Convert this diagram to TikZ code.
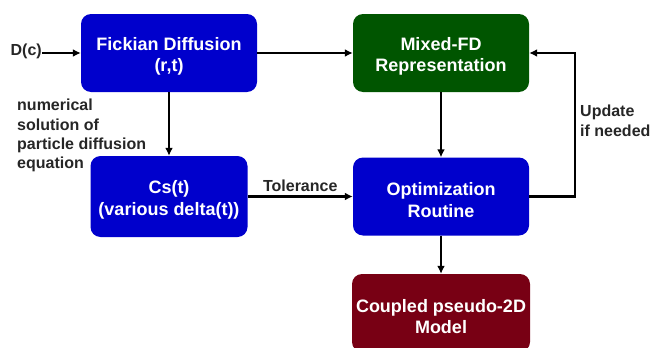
\documentclass[tikz,border=0pt]{standalone}
\usepackage{fontspec}
\usetikzlibrary{arrows.meta}
\setmainfont{Liberation Sans}
\definecolor{boxblue}{RGB}{0,0,204}
\definecolor{boxgreen}{RGB}{0,85,0}
\definecolor{boxred}{RGB}{120,0,20}
\definecolor{notegray}{RGB}{38,38,38}
\newcommand{\topstrut}{\rule{0pt}{20pt}}
\begin{document}
\begin{tikzpicture}[x = 1pt, y = -1pt, >= {Latex[length = 8pt, width = 8pt]},
        block/.style = {rounded corners = 10pt, text = white, align = center, inner sep = 0pt,
                        minimum width = 176pt, minimum height = 78pt,
                        font = \fontsize{18}{21.7}\selectfont\bfseries},
        note/.style = {text = notegray, align = left, inner sep = 0pt,
                       font = \fontsize{16}{19.4}\selectfont\bfseries},
        arrow/.style = {->, line width = 2.2pt}]
            \useasboundingbox (0,0) rectangle (651,348);
            \clip (0,0) rectangle (651,348);
            \node[block, fill = boxblue] (fick) at (169,53) {\topstrut Fickian Diffusion\\(r,t)};
            \node[block, fill = boxgreen] (mixed) at (441,53) {\topstrut Mixed-FD\\Representation};
            \node[block, fill = boxblue, minimum width = 157pt, minimum height = 81pt] (cs) at (169,196.5) {\topstrut Cs(t)\\(various delta(t))};
            \node[block, fill = boxblue] (opt) at (441,196.5) {\topstrut Optimization\\Routine};
            \node[block, fill = boxred, minimum width = 178pt] (model) at (441,313) {\topstrut Coupled pseudo-2D\\Model};
            \node[note, anchor = east] (dc) at (42,51) {D(c)};
            \node[note, anchor = north west] (numsol) at (17,99) {numerical\\solution of\\particle diffusion\\equation};
            \node[note, anchor = north west] (upd) at (580,105) {Update\\if needed};
            \draw[arrow] (dc.east |- fick.west) -- (fick.west);
            \draw[arrow] (fick) -- (mixed);
            \draw[arrow] (fick) -- (cs);
            \draw[arrow] (mixed) -- (opt);
            \draw[arrow] (cs) -- node[note, above = 4pt] (tol) {Tolerance} (opt);
            \draw[arrow] (opt) -- (model);
            \draw[arrow] (opt.east) -- ++(46,0) |- (mixed.east);
        \end{tikzpicture}
\end{document}
